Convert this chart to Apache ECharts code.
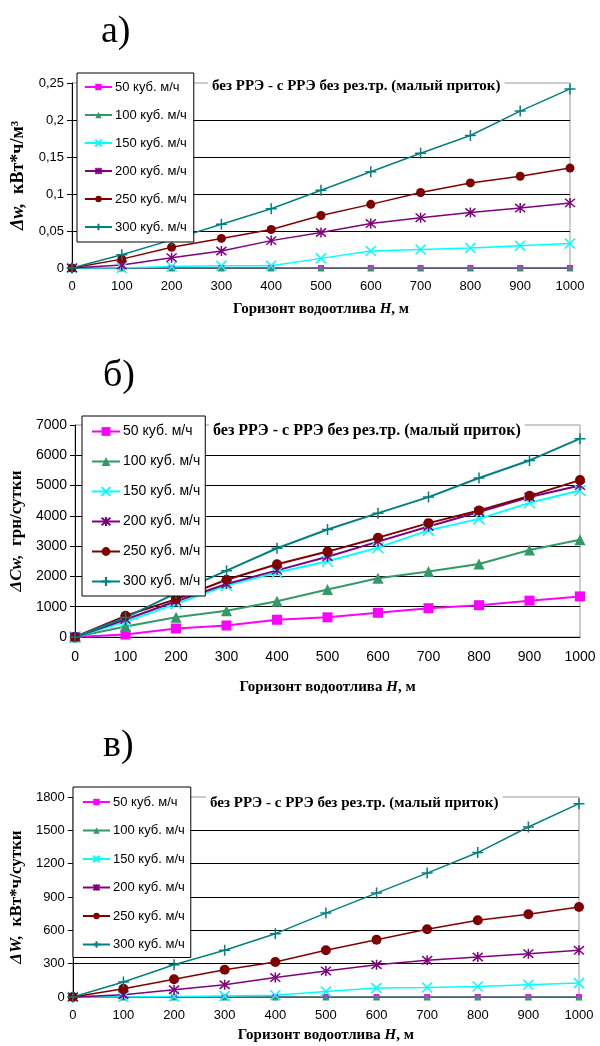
<!DOCTYPE html>
<html>
<head>
<meta charset="utf-8">
<script src="https://cdn.jsdelivr.net/npm/echarts@6/dist/echarts.min.js"></script>
<style>
  html, body { margin: 0; padding: 0; background: #fff; }
  #chart { width: 600px; height: 1046px; }
</style>
</head>
<body>
<div id="chart"></div>
<script>
// Горизонт водоотлива H, м
const H = [0, 100, 200, 300, 400, 500, 600, 700, 800, 900, 1000];
const seriesNames = ['50 куб. м/ч', '100 куб. м/ч', '150 куб. м/ч', '200 куб. м/ч', '250 куб. м/ч', '300 куб. м/ч'];

// а) Δw, кВт*ч/м³
const dw50  = [0, 0, 0, 0, 0, 0, 0, 0, 0, 0, 0];
const dw100 = [0, 0, 0, 0, 0, 0, 0, 0, 0, 0, 0];
const dw150 = [0, 0, 0.002, 0.003, 0.003, 0.013, 0.023, 0.025, 0.027, 0.030, 0.033];
const dw200 = [0, 0.004, 0.014, 0.023, 0.037, 0.048, 0.060, 0.068, 0.075, 0.081, 0.088];
const dw250 = [0, 0.012, 0.028, 0.040, 0.052, 0.071, 0.086, 0.102, 0.115, 0.124, 0.135];
const dw300 = [0, 0.018, 0.038, 0.059, 0.080, 0.105, 0.130, 0.155, 0.179, 0.212, 0.242];

// б) ΔCw, грн/сутки
const dc50  = [0, 80, 280, 380, 570, 650, 800, 950, 1050, 1200, 1340];
const dc100 = [0, 350, 650, 870, 1180, 1570, 1940, 2160, 2410, 2870, 3210];
const dc150 = [0, 500, 1100, 1700, 2130, 2500, 2950, 3520, 3900, 4430, 4840];
const dc200 = [0, 580, 1180, 1750, 2200, 2650, 3150, 3650, 4130, 4620, 5000];
const dc250 = [0, 700, 1250, 1890, 2400, 2820, 3280, 3760, 4180, 4660, 5180];
const dc300 = [0, 640, 1450, 2190, 2930, 3550, 4090, 4620, 5250, 5830, 6550];

// в) ΔW, кВт*ч/сутки
const dW50  = [0, 0, 0, 0, 0, 0, 0, 0, 0, 0, 0];
const dW100 = [0, 0, 0, 0, 0, 0, 0, 0, 0, 0, 0];
const dW150 = [0, 0, 5, 10, 15, 50, 80, 85, 95, 110, 125];
const dW200 = [0, 20, 65, 110, 175, 235, 290, 330, 360, 390, 420];
const dW250 = [0, 75, 160, 245, 315, 420, 515, 610, 690, 745, 810];
const dW300 = [0, 135, 290, 420, 570, 755, 935, 1115, 1300, 1530, 1740];

const panelA = [dw50, dw100, dw150, dw200, dw250, dw300];
const panelB = [dc50, dc100, dc150, dc200, dc250, dc300];
const panelC = [dW50, dW100, dW150, dW200, dW250, dW300];

const subtitle = 'без РРЭ - с РРЭ без рез.тр. (малый приток)';

const colors = ['#FF00FF', '#339966', '#00FFFF', '#800080', '#800000', '#008080'];
const SYM_X = 'path://M0,0L10,10M10,0L0,10';
const SYM_AST = 'path://M0,0L10,10M10,0L0,10M5,-1L5,11';
const SYM_PLUS = 'path://M5,0L5,10M0,5L10,5';
const symbols = ['rect', 'triangle', SYM_X, SYM_AST, 'circle', SYM_PLUS];
const outlined = [false, false, true, true, false, true];

const sizesSmall = [6, 7, 10, 10, 9, 11];
const sizesLarge = [10, 11, 11, 10, 10, 11];
const sizesC = [6, 7, 10, 10, 10, 11];

const serif = '"Liberation Serif", "Times New Roman", serif';
const sans = '"Liberation Sans", Arial, sans-serif';

function pairs(ys) { return H.map((h, i) => [h, ys[i]]); }

function buildSeries(values, idx, sizes, lw) {
  return values.map((ys, k) => ({
    name: seriesNames[k],
    type: 'line',
    xAxisIndex: idx,
    yAxisIndex: idx,
    data: pairs(ys),
    symbol: symbols[k],
    symbolSize: sizes[k],
    showAllSymbol: true,
    animation: false,
    lineStyle: { color: colors[k], width: lw },
    itemStyle: outlined[k]
      ? { color: colors[k], borderColor: colors[k], borderWidth: 1.5 }
      : { color: colors[k], borderColor: colors[k], borderWidth: 0 }
  }));
}

function xAxisFor(idx, margin, gap) {
  return {
    gridIndex: idx, type: 'value', min: 0, max: 1000, interval: 100,
    axisLine: { show: true, onZero: false, lineStyle: { color: '#000', width: 1 } },
    axisTick: { show: false },
    axisLabel: { color: '#000', fontFamily: sans, fontSize: idx === 1 ? 14 : 13, margin: margin, formatter: v => String(v) },
    splitLine: { show: false },
    name: '{n|Горизонт водоотлива }{i|H}{n|, м}',
    nameLocation: 'middle',
    nameGap: gap,
    nameTextStyle: {
      rich: {
        n: { fontFamily: serif, fontWeight: 'bold', fontSize: 15, color: '#000' },
        i: { fontFamily: serif, fontWeight: 'bold', fontStyle: 'italic', fontSize: 15, color: '#000' }
      }
    }
  };
}

function yAxisFor(idx, max, interval, nameRich, fmt, gap, nameSize) {
  return {
    gridIndex: idx, type: 'value', min: 0, max: max, interval: interval,
    axisLine: { show: true, lineStyle: { color: '#000', width: 1 } },
    axisTick: { show: true, length: 5, lineStyle: { color: '#000' } },
    axisLabel: { color: '#000', fontFamily: sans, fontSize: idx === 1 ? 14 : 13, margin: 8, formatter: fmt },
    splitLine: { show: true, showMinLine: false, showMaxLine: false, lineStyle: { color: '#000', width: 1 } },
    name: nameRich,
    nameLocation: 'middle',
    nameRotate: 90,
    nameGap: gap,
    nameTextStyle: {
      rich: {
        i: { fontFamily: serif, fontWeight: 'bold', fontStyle: 'italic', fontSize: nameSize, color: '#000' },
        n: { fontFamily: serif, fontWeight: 'bold', fontSize: nameSize, color: '#000' }
      }
    }
  };
}

function legendFor(left, top, fontSize, lineHeight, itemGap, itemWidth, itemHeight, pad) {
  return {
    show: true,
    orient: 'vertical',
    left: left, top: top,
    data: seriesNames.slice(),
    backgroundColor: '#fff',
    borderColor: '#000',
    borderWidth: 1,
    borderRadius: 0,
    padding: pad,
    itemGap: itemGap,
    itemWidth: itemWidth,
    itemHeight: itemHeight,
    textStyle: { fontFamily: sans, fontSize: fontSize, lineHeight: lineHeight, color: '#000', padding: [0, 0, 0, -2] },
    selectedMode: false
  };
}

const commaFmt = v => String(Math.round(v * 100) / 100).replace('.', ',');

const option = {
  backgroundColor: '#fff',
  animation: false,
  grid: [
    { left: 72, top: 83, width: 498, height: 185, show: true, borderColor: '#999', borderWidth: 1, backgroundColor: 'transparent' },
    { left: 71, top: 425, width: 509, height: 212, show: true, borderColor: '#999', borderWidth: 1, backgroundColor: 'transparent' },
    { left: 65, top: 797, width: 514, height: 200, show: true, borderColor: '#999', borderWidth: 1, backgroundColor: 'transparent' }
  ],
  title: [
    { text: 'а)', left: 96, top: 8, textStyle: { fontFamily: serif, fontSize: 38, fontWeight: 'normal', color: '#000' } },
    { text: 'б)', left: 98, top: 352, textStyle: { fontFamily: serif, fontSize: 38, fontWeight: 'normal', color: '#000' } },
    { text: 'в)', left: 98, top: 722, textStyle: { fontFamily: serif, fontSize: 38, fontWeight: 'normal', color: '#000' } },
    { text: subtitle, left: 208, top: 78, padding: [1, 4], backgroundColor: '#fff', textStyle: { fontFamily: serif, fontSize: 15, fontWeight: 'bold', color: '#000' } },
    { text: subtitle, left: 209, top: 422, padding: [1, 4], backgroundColor: '#fff', textStyle: { fontFamily: serif, fontSize: 16, fontWeight: 'bold', color: '#000' } },
    { text: subtitle, left: 206, top: 795, padding: [1, 4], backgroundColor: '#fff', textStyle: { fontFamily: serif, fontSize: 15, fontWeight: 'bold', color: '#000' } }
  ],
  legend: [
    legendFor(77, 73, 13, 16, 12, 27, 8, [6, 7, 7, 7]),
    legendFor(82, 416, 14, 17, 13, 28, 11, [7, 5, 6, 9]),
    legendFor(73, 787, 13, 16, 12.5, 27, 8, [7, 6, 5, 9])
  ],
  xAxis: [xAxisFor(0, 12, 34), xAxisFor(1, 13, 43), xAxisFor(2, 12, 31)],
  yAxis: [
    yAxisFor(0, 0.25, 0.05, '{i|Δw,}{n|  кВт*ч/м³}', commaFmt, 42, 18),
    yAxisFor(1, 7000, 1000, '{i|ΔCw,}{n|  грн/сутки}', v => String(v), 42, 17),
    yAxisFor(2, 1800, 300, '{i|ΔW,}{n|  кВт*ч/сутки}', v => String(v), 43, 17)
  ],
  series: [
    ...buildSeries(panelA, 0, sizesSmall, 1.5),
    ...buildSeries(panelB, 1, sizesLarge, 2),
    ...buildSeries(panelC, 2, sizesC, 1.5)
  ]
};

const chart = echarts.init(document.getElementById('chart'), null, { renderer: 'canvas' });
chart.setOption(option);
</script>
</body>
</html>
